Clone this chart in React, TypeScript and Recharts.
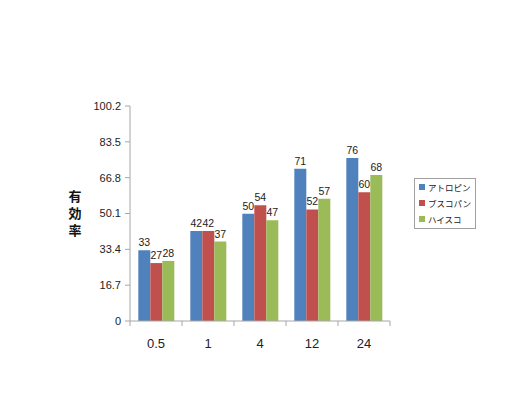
import { BarChart, Bar, XAxis, YAxis, LabelList } from 'recharts'

const hours = ['0.5', '1', '4', '12', '24']
const atropine = [33, 42, 50, 71, 76]
const buscopan = [27, 42, 54, 52, 60]
const haisuco = [28, 37, 47, 57, 68]
const yTicks = [0, 16.7, 33.4, 50.1, 66.8, 83.5, 100.2]
const yLabel = '有効率'

const series = [
  { key: 'atropine', name: 'アトロピン', color: '#4F81BD' },
  { key: 'buscopan', name: 'ブスコパン', color: '#C0504D' },
  { key: 'haisuco', name: 'ハイスコ', color: '#9BBB59' }
]

const data = hours.map((h, i) => ({
  hour: h,
  atropine: atropine[i],
  buscopan: buscopan[i],
  haisuco: haisuco[i]
}))

const font = '"Liberation Sans", "Noto Sans CJK JP", sans-serif'
const jpFont = '"Noto Sans CJK JP", sans-serif'
const axisColor = '#a6a6a6'

function HourTick(props: any) {
  const { x, y, payload, index, visibleTicksCount } = props
  const half = payload && payload.offset ? payload.offset : 26
  return (
    <g>
      <line x1={x - half} x2={x - half} y1={y} y2={y + 5} stroke={axisColor} />
      {index === visibleTicksCount - 1 && (
        <line x1={x + half} x2={x + half} y1={y} y2={y + 5} stroke={axisColor} />
      )}
      <text x={x} y={y + 27} textAnchor="middle" fontSize={13} fill="#222" fontFamily={font}>
        {payload.value}
      </text>
    </g>
  )
}

function LegendBox() {
  return (
    <div
      style={{
        position: 'absolute',
        left: 414,
        top: 178,
        width: 62,
        height: 51,
        border: '1px solid #a0a0a0',
        boxSizing: 'border-box',
        background: 'white',
        fontFamily: jpFont,
        fontSize: 8.5,
        lineHeight: '17px',
        color: '#222',
        whiteSpace: 'nowrap'
      }}
    >
      {series.map((s) => (
        <div key={s.key} style={{ display: 'flex', alignItems: 'center', height: 16, paddingLeft: 4 }}>
          <span style={{ width: 6, height: 6, background: s.color, marginRight: 3, display: 'inline-block', flexShrink: 0 }} />
          <span>{s.name}</span>
        </div>
      ))}
    </div>
  )
}

export default function App() {
  return (
    <div style={{ position: 'absolute', left: 0, top: 0, width: 530, height: 397, background: 'white' }}>
      <BarChart
        width={530}
        height={397}
        data={data}
        margin={{ top: 106, right: 140, left: 0, bottom: 36 }}
        barGap={0}
        barCategoryGap="16%"
      >
        <XAxis
          dataKey="hour"
          height={40}
          stroke={axisColor}
          tickLine={false}
          tickSize={0}
          tickMargin={0}
          tick={<HourTick />}
          interval={0}
        />
        <YAxis
          width={130}
          domain={[0, 100.2]}
          ticks={yTicks}
          interval={0}
          stroke={axisColor}
          tickSize={5}
          tickMargin={4}
          tick={{ fontSize: 11, fill: '#222', fontFamily: font }}
        />
        {series.map((s) => (
          <Bar key={s.key} dataKey={s.key} name={s.name} fill={s.color} isAnimationActive={false}>
            <LabelList dataKey={s.key} position="top" offset={4} fontSize={10.5} fill="#222" fontFamily={font} />
          </Bar>
        ))}
        <text
          x={75}
          y={190}
          fontSize={13}
          fontWeight="bold"
          fill="#111"
          fontFamily={jpFont}
          letterSpacing={4}
          style={{ writingMode: 'vertical-rl' }}
        >
          {yLabel}
        </text>
      </BarChart>
      <LegendBox />
    </div>
  )
}
